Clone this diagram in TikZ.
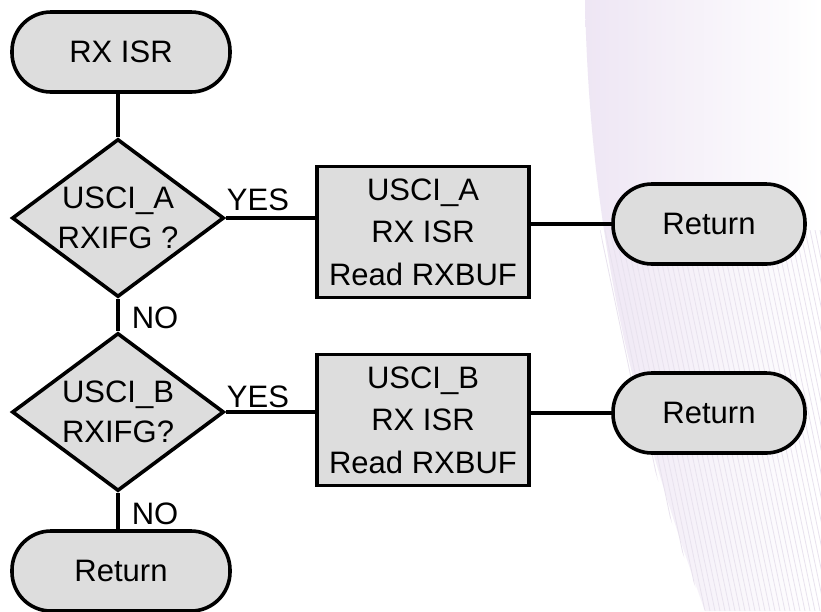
\documentclass[tikz,border=0pt]{standalone}
\usepackage{fontspec}
\setmainfont{Liberation Sans}
\usetikzlibrary{shapes.geometric}
\definecolor{boxgray}{HTML}{DDDDDD}
\definecolor{swoosh}{HTML}{EEE6F4}
\definecolor{stripe}{HTML}{E8E2EE}
\begin{document}
\begin{tikzpicture}[x=1pt,y=-1pt,
  every node/.style={font=\fontsize{31}{42.5}\selectfont},
  outline/.style={draw=black, line width=3.6pt, fill=boxgray},
  term/.style={outline, rounded corners=39pt, minimum width=218pt, minimum height=80pt, inner sep=0pt},
  proc/.style={outline, minimum width=212pt, minimum height=131pt, inner sep=0pt, align=center},
  dec/.style={outline, diamond, aspect=1.34, inner sep=0pt, minimum width=212pt, minimum height=158pt, align=center, font=\fontsize{31}{40}\selectfont},
  link/.style={line width=3.6pt},
  lbl/.style={inner sep=0pt}]
\useasboundingbox (0,0) rectangle (821,611);
\fill[white] (0,0) rectangle (821,611);

% faint decorative swoosh in the background
\shade[left color=swoosh, right color=white]
  (585,0) .. controls (590,250) and (640,430) .. (705,611) -- (821,611) -- (821,0) -- cycle;
\begin{scope}
  \clip (600,230) .. controls (630,400) and (660,500) .. (705,611) -- (821,611) -- (821,230) -- cycle;
  \foreach \i in {0,5,...,300}
    \draw[stripe, line width=0.8pt] (560+\i,230) -- (640+\i,611);
\end{scope}

% flowchart nodes
\node[term] (start) at (121,52) {RX ISR};
\node[dec]  (qa)    at (118,218) {USCI\_A\\RXIFG ?};
\node[proc] (pa)    at (423,232) {USCI\_A\\RX ISR\\Read RXBUF};
\node[term, minimum width=192pt] (ra) at (709,224) {Return};
\node[dec]  (qb)    at (118,412) {USCI\_B\\RXIFG?};
\node[proc] (pb)    at (423,420) {USCI\_B\\RX ISR\\Read RXBUF};
\node[term, minimum width=192pt] (rb) at (709,413) {Return};
\node[term] (rc)    at (121,571) {Return};

% connectors
\draw[link] (start.south -| qa.north) -- (qa.north);
\draw[link] (qa.east) -- (qa.east -| pa.west);
\draw[link] (pa.east |- ra.west) -- (ra.west);
\draw[link] (qa.south) -- (qb.north);
\draw[link] (qb.east) -- (qb.east -| pb.west);
\draw[link] (pb.east |- rb.west) -- (rb.west);
\draw[link] (qb.south) -- (qb.south |- rc.north);

% branch labels
\node[lbl] (ya) at (258,200) {YES};
\node[lbl] (na) at (155,318) {NO};
\node[lbl] (yb) at (258,397) {YES};
\node[lbl] (nb) at (155,514) {NO};
\end{tikzpicture}
\end{document}
